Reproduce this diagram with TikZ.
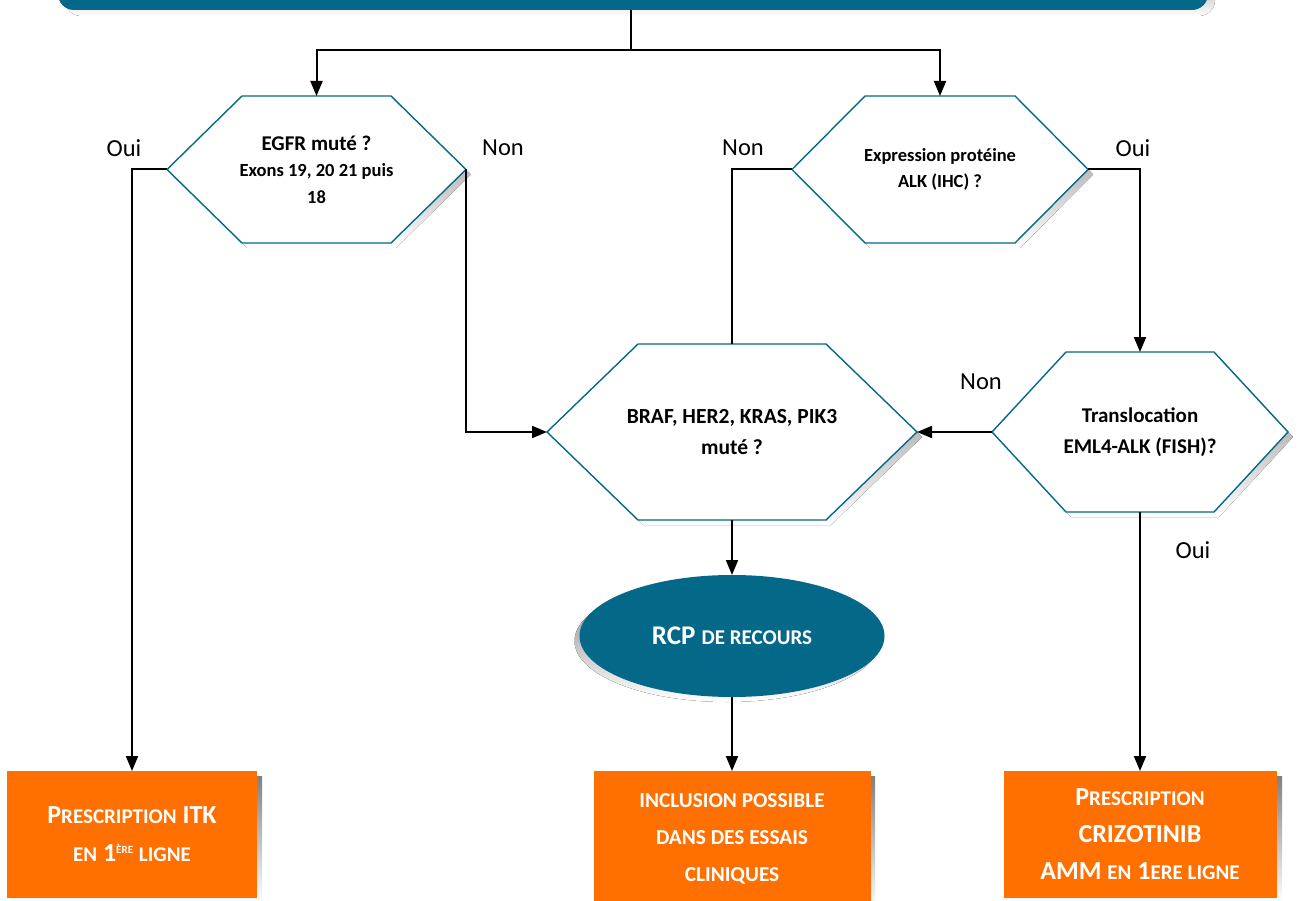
\documentclass[tikz,border=0pt]{standalone}
\usepackage{fontspec}
\setmainfont{Carlito}
\usetikzlibrary{arrows.meta,backgrounds,shapes.geometric}

\definecolor{deepteal}{RGB}{4,104,137}
\definecolor{boxorange}{RGB}{255,112,0}
\definecolor{shade}{RGB}{128,128,128}

% fake small capitals at a given size
\newcommand\smc[2]{{\fontsize{#1}{10}\selectfont #2}}

% hexagon outline around a rectangular node: name, inset, dx, dy
\newcommand\hexpath[4]{([shift={(#3,#4)}]#1.west) -- ([shift={(#2+#3,#4)}]#1.north west) -- ([shift={(-#2+#3,#4)}]#1.north east) -- ([shift={(#3,#4)}]#1.east) -- ([shift={(-#2+#3,#4)}]#1.south east) -- ([shift={(#2+#3,#4)}]#1.south west) -- cycle}
\newcommand\hexbox[2]{%
  \begin{pgfonlayer}{background}
    \fill[shade] \hexpath{#1}{#2}{5}{5};
    \draw[hexline] \hexpath{#1}{#2}{0}{0};
  \end{pgfonlayer}}

\tikzset{
  hexline/.style={draw=deepteal, line width=1.4pt, fill=white},
  decision/.style={rectangle, draw=none, inner sep=0pt, outer sep=0pt,
    align=center},
  outcome/.style={rectangle, fill=boxorange, inner sep=0pt, outer sep=0pt,
    text=white, align=center},
  answer/.style={font=\fontsize{24.5}{26}\selectfont, inner sep=0pt},
  link/.style={line width=2pt, draw=black},
  arrow/.style={link, -{Triangle[length=15pt,width=12pt]}},
}

\begin{document}
\begin{tikzpicture}[x=1pt,y=-1pt]
\useasboundingbox (0,0) rectangle (1300,901);
\clip (0,0) rectangle (1300,901);

% title banner
\fill[shade, rounded corners=16pt] (65,-40) rectangle (1215,16);
\node[rectangle, fill=deepteal, rounded corners=16pt, minimum width=1150,
  minimum height=50, inner sep=0pt, outer sep=0pt] (top) at (633,-15) {};

% decision hexagons
\node[decision, minimum width=299, minimum height=147,
  font=\bfseries\fontsize{18.5}{26.5}\selectfont] (egfr) at (316.5,169.5)
  {{\fontsize{21}{26.5}\selectfont EGFR muté ?}\\
   Exons 19, 20 21 puis\\
   18};
\hexbox{egfr}{75}

\node[decision, minimum width=296, minimum height=147,
  font=\bfseries\fontsize{18.5}{26}\selectfont] (alk) at (940,169.5)
  {Expression protéine\\ ALK (IHC) ?};
\hexbox{alk}{73}

\node[decision, minimum width=370, minimum height=176,
  font=\bfseries\fontsize{21.5}{31}\selectfont] (braf) at (732,432)
  {BRAF, HER2, KRAS, PIK3\\ muté ?};
\hexbox{braf}{91}

\node[decision, minimum width=296, minimum height=160,
  font=\bfseries\fontsize{21}{31}\selectfont] (fish) at (1140,432)
  {Translocation\\ EML4-ALK (FISH)?};
\hexbox{fish}{74}

% review meeting
\fill[shade] (727,641) ellipse [x radius=152.5pt, y radius=61pt];
\node[ellipse, fill=deepteal, minimum width=305, minimum height=122,
  inner sep=0pt, outer sep=0pt, text=white,
  font=\bfseries\fontsize{27}{30}\selectfont] (rcp) at (732,636)
  {RCP \smc{21}{DE RECOURS}};

% outcomes
\fill[shade] (12,776) rectangle (262,903);
\node[outcome, minimum width=250, minimum height=127,
  font=\bfseries\fontsize{26}{38}\selectfont] (itk) at (132,834.5)
  {P\smc{21}{RESCRIPTION} ITK\\
   \smc{21}{EN} 1\raisebox{8pt}{\fontsize{11}{11}\selectfont ÈRE} \smc{21}{LIGNE}};

\fill[shade] (598,776) rectangle (875,912);
\node[outcome, minimum width=277, minimum height=136,
  font=\bfseries\fontsize{21.3}{37}\selectfont] (essais) at (732,839)
  {INCLUSION POSSIBLE\\ DANS DES ESSAIS\\ CLINIQUES};

\fill[shade] (1009,776) rectangle (1282,903);
\node[outcome, minimum width=273, minimum height=127,
  font=\bfseries\fontsize{26}{37}\selectfont] (crizo) at (1140,834.5)
  {\raisebox{0pt}[\height][\depth]{P\smc{21}{RESCRIPTION}}\\
   CRIZOTINIB\\
   AMM \smc{21}{EN} 1\smc{21}{ERE LIGNE}};

% connectors
\draw[link] ([xshift=-2pt]top.south) -- ++(0,40) coordinate (split);
\draw[arrow] (split) -| (egfr.north);
\draw[arrow] (split) -| (alk.north);
\draw[arrow] (egfr.west) -| (itk.north);
\draw[arrow] (egfr.east) |- (braf.west);
\draw[link] (alk.west) -| (braf.north);
\draw[arrow] (alk.east) -| (fish.north);
\draw[arrow] (fish.west) -- (braf.east);
\draw[arrow] (fish.south) -- (crizo.north);
\draw[arrow] (braf.south) -- (rcp.north);
\draw[arrow] (rcp.south) -- (essais.north);

% branch answers
\node[answer] (a1) at (124,148) {Oui};
\node[answer] (a2) at (503,148) {Non};
\node[answer] (a3) at (743,148) {Non};
\node[answer] (a4) at (1133,148) {Oui};
\node[answer] (a5) at (981,382) {Non};
\node[answer] (a6) at (1193,550) {Oui};
\end{tikzpicture}
\end{document}
